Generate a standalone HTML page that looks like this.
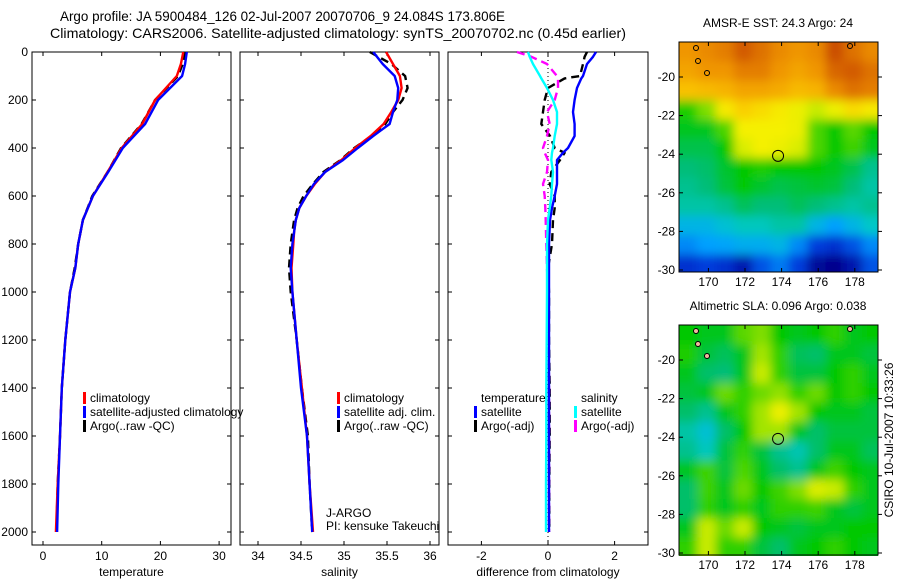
<!DOCTYPE html>
<html><head><meta charset="utf-8">
<style>
html,body{margin:0;padding:0;background:#fff;}
svg{display:block;font-family:"Liberation Sans",sans-serif;}
</style></head>
<body>
<svg id="chart" width="900" height="580" viewBox="0 0 900 580" xmlns="http://www.w3.org/2000/svg">
<defs>
<filter id="blur" x="-10%" y="-10%" width="120%" height="120%"><feGaussianBlur stdDeviation="5"/></filter>
<clipPath id="clipTop"><rect x="679" y="42" width="199" height="230"/></clipPath>
<clipPath id="clipBot"><rect x="679" y="325" width="199" height="231"/></clipPath>
</defs>
<text x="60" y="21" font-size="14" textLength="445" lengthAdjust="spacingAndGlyphs">Argo profile: JA 5900484_126 02-Jul-2007 20070706_9 24.084S 173.806E</text>
<text x="50" y="38" font-size="14" textLength="576" lengthAdjust="spacingAndGlyphs">Climatology: CARS2006. Satellite-adjusted climatology: synTS_20070702.nc (0.45d earlier)</text>
<g id="g"></g>
</svg>
<script>
// ---- profile data ----
const tDepths = [0,50,100,200,300,400,500,600,700,800,900,1000,1200,1400,1600,1800,2000];
const tClim = [23.9,23.5,22.8,19.1,16.9,13.4,11.0,8.5,6.8,6.0,5.5,4.6,3.8,3.2,2.9,2.5,2.2];
const tSat = [24.5,24.2,23.7,19.6,17.4,13.6,11.1,8.5,6.8,6.0,5.5,4.6,3.8,3.2,2.9,2.6,2.4];
const tArgo = [24.2,23.8,23.0,19.1,16.8,13.3,11.0,8.4,6.8,6.0,5.4,4.6,3.8,3.2,2.9,2.5,2.3];
const sDepths = [0,50,100,150,200,250,300,350,400,450,500,550,600,650,700,750,800,900,1000,1200,1400,1600,1800,2000];
const sClim = [35.49,35.57,35.65,35.67,35.63,35.55,35.46,35.31,35.13,34.97,34.78,34.66,34.56,34.48,34.44,34.42,34.41,34.39,34.40,34.45,34.51,34.57,34.60,34.64];
const sSat = [35.34,35.45,35.59,35.63,35.62,35.57,35.53,35.34,35.16,34.99,34.78,34.65,34.56,34.48,34.44,34.42,34.40,34.38,34.40,34.45,34.50,34.57,34.60,34.63];
const sArgo = [35.3,35.55,35.71,35.74,35.68,35.57,35.48,35.32,35.12,34.96,34.76,34.64,34.53,34.46,34.42,34.40,34.38,34.36,34.38,34.45,34.51,34.58,34.60,34.63];
const dDepths = [0,20,50,100,110,150,200,250,300,350,400,420,450,500,550,600,650,700,800,900,1000,1200,1400,1600,1800,2000];
const dTSat = [1.44,1.35,1.17,1.05,1.0,0.87,0.8,0.75,0.8,0.8,0.6,0.45,0.27,0.27,0.27,0.2,0.12,0.06,0.03,0.03,0.03,0.03,0.03,0.03,0.03,0.03];
const dTArgo = [1.17,1.1,1.05,0.96,0.5,0.0,-0.1,-0.15,-0.2,0.06,0.2,0.5,0.36,0.1,0.05,0.2,0.2,0.15,0.12,0.0,0.03,0.03,0.05,0.05,0.04,0.04];
const dSSat = [-0.6,-0.55,-0.45,-0.24,-0.2,-0.03,0.15,0.27,0.27,0.2,0.15,0.12,0.1,0.15,0.12,0.1,0.05,0.0,-0.03,-0.03,-0.03,-0.04,-0.05,-0.05,-0.06,-0.06];
const dSArgo = [-0.93,-0.5,-0.03,0.27,0.3,0.3,0.2,-0.03,0.05,-0.03,-0.15,-0.1,0.0,-0.03,-0.15,-0.1,-0.08,-0.07,-0.05,-0.03,0.0,0.02,0.03,0.03,0.03,0.03];
const depthTicks = [0,200,400,600,800,1000,1200,1400,1600,1800,2000];
const tTicks = [0,10,20,30];
const sTicks = [34,34.5,35,35.5,36];
const dTicks = [-2,0,2];
// ---- map data (1-degree cells, rows north->south, cols west->east) ----
const mapLons = [168.9,169.9,170.9,171.9,172.9,173.9,174.9,175.9,176.9,177.9,178.9];
const mapLats = [-18.7,-19.7,-20.7,-21.7,-22.7,-23.7,-24.7,-25.7,-26.7,-27.7,-28.7,-29.7];
const sstGrid = [
[0.8,0.82,0.84,0.9,0.86,0.82,0.8,0.82,0.92,0.86,0.82],
[0.78,0.8,0.8,0.84,0.84,0.8,0.78,0.8,0.88,0.9,0.86],
[0.74,0.75,0.76,0.78,0.78,0.77,0.75,0.76,0.82,0.86,0.84],
[0.52,0.58,0.68,0.72,0.7,0.68,0.66,0.62,0.66,0.7,0.68],
[0.48,0.48,0.55,0.67,0.67,0.67,0.66,0.55,0.5,0.56,0.5],
[0.45,0.45,0.5,0.64,0.67,0.66,0.64,0.55,0.5,0.54,0.48],
[0.42,0.43,0.47,0.5,0.52,0.5,0.5,0.5,0.48,0.45,0.4],
[0.4,0.42,0.46,0.5,0.47,0.45,0.46,0.47,0.46,0.42,0.38],
[0.38,0.38,0.4,0.44,0.42,0.42,0.44,0.42,0.4,0.38,0.4],
[0.3,0.3,0.33,0.36,0.36,0.38,0.38,0.3,0.25,0.3,0.35],
[0.22,0.25,0.26,0.28,0.28,0.3,0.22,0.12,0.1,0.15,0.22],
[0.1,0.12,0.1,0.05,0.15,0.2,0.12,0.02,0.0,0.05,0.15]];
const slaGrid = [
[0.5,0.48,0.48,0.56,0.58,0.5,0.48,0.5,0.53,0.48,0.5],
[0.52,0.46,0.44,0.48,0.6,0.53,0.44,0.43,0.48,0.48,0.46],
[0.48,0.43,0.42,0.48,0.62,0.53,0.46,0.46,0.5,0.53,0.48],
[0.46,0.48,0.57,0.53,0.57,0.59,0.53,0.57,0.5,0.53,0.5],
[0.43,0.4,0.48,0.53,0.6,0.66,0.6,0.5,0.48,0.48,0.46],
[0.38,0.33,0.43,0.5,0.6,0.6,0.48,0.43,0.46,0.46,0.46],
[0.4,0.36,0.46,0.53,0.46,0.4,0.37,0.43,0.48,0.48,0.44],
[0.48,0.54,0.46,0.55,0.48,0.43,0.4,0.48,0.54,0.5,0.48],
[0.43,0.54,0.48,0.57,0.5,0.54,0.58,0.64,0.62,0.53,0.48],
[0.43,0.53,0.48,0.53,0.48,0.53,0.53,0.54,0.48,0.46,0.48],
[0.48,0.62,0.57,0.62,0.5,0.48,0.46,0.48,0.48,0.5,0.5],
[0.53,0.62,0.53,0.53,0.46,0.43,0.48,0.5,0.53,0.5,0.48]];
const lonTicks = [170,172,174,176,178];
const latTicks = [-20,-22,-24,-26,-28,-30];
const argoLon = 173.806, argoLat = -24.084;

const NS="http://www.w3.org/2000/svg";
const G=document.getElementById('g');
function mk(tag,attrs,parent){const e=document.createElementNS(NS,tag);for(const k in attrs)e.setAttribute(k,attrs[k]);(parent||G).appendChild(e);return e;}
function txt(x,y,s,size,anchor,parent){const t=mk('text',{x:x,y:y,'font-size':size||12,'text-anchor':anchor||'start'},parent);t.textContent=s;return t;}

const Y0=52, YPX=0.24, PT=52, PB=545;
const yD=d=>Y0+d*YPX;
const panels=[
 {name:'temperature',l:32,r:231,x:v=>43+v*5.87,ticks:tTicks,label:'temperature'},
 {name:'salinity',l:240,r:439,x:v=>258+(v-34)*86,ticks:sTicks,label:'salinity'},
 {name:'difference',l:448,r:648,x:v=>548+v*33.3,ticks:dTicks,label:'difference from climatology'}];

panels.forEach((p,i)=>{
  const ax=mk('rect',{x:p.l,y:PT,width:p.r-p.l,height:PB-PT,fill:'none',stroke:'#000','stroke-width':1});
  
  
  p.ticks.forEach(v=>{
    const X=p.x(v);
    mk('line',{x1:X,y1:PT,x2:X,y2:PT+4,stroke:'#000'});
    mk('line',{x1:X,y1:PB,x2:X,y2:PB-4,stroke:'#000'});
    const t=txt(X,PB+15,String(v),12,'middle');
    
    
  });
  depthTicks.forEach(d=>{
    mk('line',{x1:p.l,y1:yD(d),x2:p.l+4,y2:yD(d),stroke:'#000'});
    mk('line',{x1:p.r,y1:yD(d),x2:p.r-4,y2:yD(d),stroke:'#000'});
    if(i===0){const t=txt(p.l-4,yD(d)+4,String(d),12,'end');
      
      }
  });
  const lab=txt((p.l+p.r)/2,PB+31,p.label,12,'middle');
  
  
});

function stepPath(px,depths,vals){let s='';depths.forEach((d,k)=>{s+=(k?'L':'M')+px(vals[k]).toFixed(1)+' '+yD(d).toFixed(1);});return s;}
function series(px,depths,vals,color,dash,name,w){
  const a={d:stepPath(px,depths,vals),fill:'none',stroke:color,'stroke-width':w||2.4,'stroke-linejoin':'round'};
  if(dash)a['stroke-dasharray']=dash;
  const e=mk('path',a);
  
  
}
const z=mk('line',{x1:548,y1:PT,x2:548,y2:PB,stroke:'#000','stroke-dasharray':'1,3','stroke-width':1});



series(panels[0].x,tDepths,tArgo,'#000','8,5','temperature-argo-line');
series(panels[0].x,tDepths,tClim,'#f00',null,'temperature-climatology-line');
series(panels[0].x,tDepths,tSat,'#00f',null,'temperature-satellite-line');
series(panels[1].x,sDepths,sArgo,'#000','8,5','salinity-argo-line');
series(panels[1].x,sDepths,sClim,'#f00',null,'salinity-climatology-line');
series(panels[1].x,sDepths,sSat,'#00f',null,'salinity-satellite-line');
series(panels[2].x,dDepths,dTArgo,'#000','8,5','temp-diff-argo-line');
series(panels[2].x,dDepths,dSArgo,'#f0f','8,5','sal-diff-argo-line');
series(panels[2].x,dDepths,dTSat,'#00f',null,'temp-diff-satellite-line');
series(panels[2].x,dDepths,dSSat,'#0ff',null,'sal-diff-satellite-line');

function legend(x,y,items,pname){
  items.forEach((it,k)=>{
    if(it[1]){const m=mk('rect',{x:x,y:y+k*14-10,width:3,height:12,fill:it[1]});
      
      }
    const t=txt(x+7,y+k*14,it[0],12);
    
    
  });
}
legend(83,402,[['climatology','#f00'],['satellite-adjusted climatology','#00f'],['Argo(..raw -QC)','#000']],'temperature');
legend(337,402,[['climatology','#f00'],['satellite adj. clim.','#00f'],['Argo(..raw -QC)','#000']],'salinity');
legend(474,402,[['temperature',null],['satellite','#00f'],['Argo(-adj)','#000']],'temp-diff');
legend(574,402,[['salinity',null],['satellite','#0ff'],['Argo(-adj)','#f0f']],'sal-diff');
let t1=txt(326,517,'J-ARGO',12);
let t2=txt(326,530,'PI: kensuke Takeuchi',12);

// ---- maps ----
const stops=[[0,[0,0,140]],[0.12,[0,60,220]],[0.25,[0,160,255]],[0.35,[0,200,200]],[0.42,[0,190,120]],[0.5,[0,200,0]],[0.56,[90,215,0]],[0.62,[200,235,0]],[0.67,[245,240,0]],[0.73,[250,200,0]],[0.8,[240,150,0]],[0.9,[210,90,0]],[1,[170,30,0]]];
function cmap(v){v=Math.max(0,Math.min(1,v));for(let i=1;i<stops.length;i++){if(v<=stops[i][0]){const a=stops[i-1],b=stops[i],f=(v-a[0])/(b[0]-a[0]);return 'rgb('+a[1].map((c,j)=>Math.round(c+(b[1][j]-c)*f)).join(',')+')';}}return 'rgb(170,30,0)';}
const LONPX=18.3;
function drawMap(grid,top,clip,name,title){
  const bottom=top+230;
  const lonX=lon=>745+(lon-172)*LONPX;
  const latY=lat=>top+35+(-20-lat)*19.3;
  const g=mk('g',{'clip-path':'url(#'+clip+')'});
  
  
  const inner=mk('g',{filter:'url(#blur)'},g);
  grid.forEach((row,r)=>row.forEach((v,c)=>{
    let x0=lonX(mapLons[c]-0.5),x1=lonX(mapLons[c]+0.5),y0=latY(mapLats[r]+0.5),y1=latY(mapLats[r]-0.5);
    if(c===0)x0-=25; if(c===row.length-1)x1+=25; if(r===0)y0-=25; if(r===grid.length-1)y1+=25;
    const cell=mk('rect',{x:x0,y:y0,width:x1-x0+0.5,height:y1-y0+0.5,fill:cmap(v)},inner);
    
    
  }));
  const fr=mk('rect',{x:679,y:top,width:199,height:230,fill:'none',stroke:'#000'});
  
  
  lonTicks.forEach(l=>{const X=lonX(l);
    mk('line',{x1:X,y1:top,x2:X,y2:top+4,stroke:'#000'});mk('line',{x1:X,y1:bottom,x2:X,y2:bottom-4,stroke:'#000'});
    const t=txt(X,bottom+14,String(l),12,'middle');});
  latTicks.forEach(l=>{const Y=latY(l);
    mk('line',{x1:878,y1:Y,x2:882,y2:Y,stroke:'#000'});mk('line',{x1:679,y1:Y,x2:683,y2:Y,stroke:'#000'});
    const t=txt(675,Y+4,String(l),12,'end');});
  const c=mk('circle',{cx:lonX(argoLon),cy:latY(argoLat),r:5.5,fill:'none',stroke:'#000','stroke-width':1});
  
  
  [[696,top+6],[698,top+19],[707,top+31],[850,top+4]].forEach(p=>{const e=mk('ellipse',{cx:p[0],cy:p[1],rx:2.5,ry:2.5,fill:name==='sla'?'#f4b8a0':'none',stroke:'#000','stroke-width':1});
    });
  const ti=txt(778,top-15,title,12,'middle');
}
drawMap(sstGrid,42,'clipTop','sst','AMSR-E SST: 24.3 Argo: 24');
drawMap(slaGrid,325,'clipBot','sla','Altimetric SLA: 0.096 Argo: 0.038');
const ts=txt(0,0,'CSIRO 10-Jul-2007 10:33:26',12,'middle');
ts.setAttribute('transform','translate(893,440) rotate(-90)');


</script>
</body></html>
